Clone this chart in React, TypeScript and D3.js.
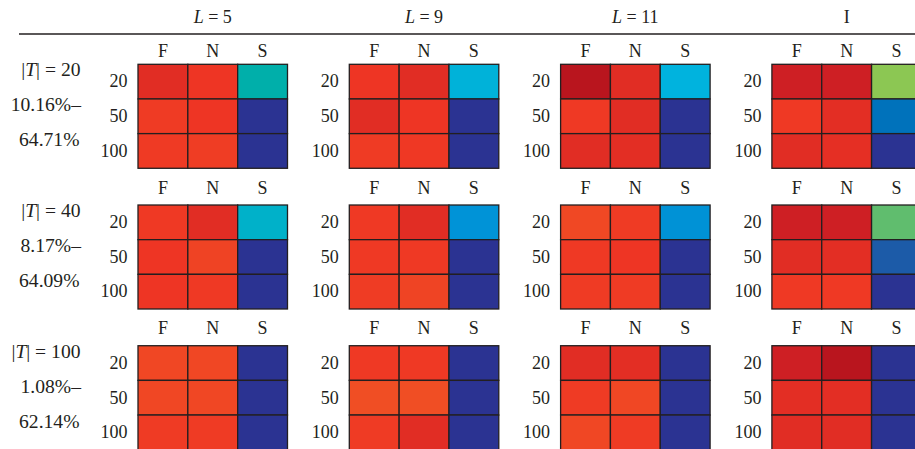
import React from "react";
import * as d3 from "d3";

// panels (columns) and groups (rows)
const methods = ["5", "9", "11", "I"];
const taskSizes = [20, 40, 100];
const rangeMin = [10.16, 8.17, 1.08];
const rangeMax = [64.71, 64.09, 62.14];
const cols = ["F", "N", "S"];
const ks = ["20", "50", "100"];

// values in %, [method][k][F, N, S]
const valsT20 = [
  [[60.9, 59.3, 29.8], [57.1, 59.3, 10.9], [57.6, 56.8, 10.2]],
  [[59.3, 60.9, 26.0], [60.9, 59.3, 10.6], [57.1, 58.0, 10.4]],
  [[64.7, 60.9, 25.4], [57.9, 60.9, 11.0], [60.9, 60.6, 10.5]],
  [[63.1, 63.1, 36.3], [57.9, 60.6, 18.9], [60.9, 60.4, 11.3]],
];
const valsT40 = [
  [[57.1, 60.2, 26.1], [58.5, 54.9, 9.5], [58.5, 57.1, 8.2]],
  [[57.1, 60.2, 20.5], [57.1, 57.1, 9.0], [56.0, 54.6, 8.8]],
  [[54.0, 56.3, 20.4], [57.1, 58.5, 9.2], [56.3, 56.3, 8.6]],
  [[62.4, 62.4, 31.7], [60.2, 59.9, 14.9], [57.1, 57.1, 9.8]],
];
const valsT100 = [
  [[51.2, 51.2, 1.1], [51.2, 51.2, 1.8], [53.6, 53.6, 2.3]],
  [[54.5, 54.5, 1.5], [49.9, 49.9, 2.0], [53.6, 57.9, 2.6]],
  [[57.9, 57.6, 1.3], [53.6, 51.2, 1.9], [51.2, 53.6, 2.4]],
  [[60.3, 62.1, 1.6], [57.6, 57.6, 2.2], [57.9, 57.9, 2.8]],
];
const allVals = [valsT20, valsT40, valsT100];

// colour map on the normalised value
const cmapStops = [0, 0.06, 0.12, 0.16, 0.22, 0.28, 0.32, 0.36, 0.42, 0.48, 0.58, 0.7, 0.8, 0.86, 0.9, 0.93, 0.97, 1];
const cmapColors = [
  "#2b3392", "#2b3392", "#1c5ba8", "#0072bb", "#0093d7", "#00b3de", "#00b1c9", "#00afaa",
  "#5fbd6e", "#8dc753", "#f7ec13", "#f7941d", "#f04e24", "#ef3b24", "#ee3524", "#e12d24",
  "#ce1f24", "#b9151e",
];

const W = 915;
const H = 449;
const FONT = "'Liberation Serif', 'Times New Roman', serif";
const INK = "#231f20";
const FS = 18;
const headerY = [57, 194, 334];

// right-aligned label, a little wider than the font draws it
const Wide = ({ x, y, children }: { x: number; y: number; children: React.ReactNode }) => (
  <text transform={`translate(${x},${y}) scale(1.09,1)`} textAnchor="end">{children}</text>
);

export default function App() {
  const panelX = d3.scaleBand().domain(methods).range([138, 921.4]).paddingInner(0.2925);
  const panelY = d3.scaleBand().domain(taskSizes.map(String)).range([64.3, 449.7]).paddingInner(0.261);
  const cellX = d3.scaleBand().domain(cols).range([0, panelX.bandwidth()]);
  const cellY = d3.scaleBand().domain(ks).range([0, panelY.bandwidth()]);
  const color = d3.scaleLinear<string>().domain(cmapStops).range(cmapColors).clamp(true);

  return (
    <svg width={W} height={H} style={{ position: "absolute", left: 0, top: 0, background: "#fff" }}
      fontFamily={FONT} fontSize={FS} fill={INK}>
      {methods.map((m) => (
        <text key={m} x={panelX(m)! + panelX.bandwidth() / 2} y={23} textAnchor="middle">
          {m === "I" ? "I" : (<><tspan fontStyle="italic">L</tspan>{" = " + m}</>)}
        </text>
      ))}
      <line x1={19} x2={W} y1={34} y2={34} stroke={INK} strokeWidth={1.3} />

      {taskSizes.map((t, ri) => {
        const y0 = panelY(String(t))!;
        const norm = d3.scaleLinear().domain([rangeMin[ri], rangeMax[ri]]).range([0, 1]);
        return (
          <g key={t}>
            <Wide x={80.5} y={y0 + 12}>
              |<tspan fontStyle="italic">T</tspan>| = {t}
            </Wide>
            <Wide x={81} y={y0 + 47}>{rangeMin[ri].toFixed(2)}%–</Wide>
            <Wide x={79.5} y={y0 + 82}>{rangeMax[ri].toFixed(2)}%</Wide>
            {methods.map((m, mi) => {
              const x0 = panelX(m)!;
              return (
                <g key={m}>
                  {cols.map((c) => (
                    <text key={c} x={x0 + cellX(c)! + cellX.bandwidth() / 2} y={headerY[ri]} textAnchor="middle">{c}</text>
                  ))}
                  {ks.map((k) => (
                    <text key={k} x={x0 - 10.5} y={y0 + cellY(k)! + cellY.bandwidth() / 2 + 5.8} textAnchor="end">{k}</text>
                  ))}
                  {ks.map((k, ki) =>
                    cols.map((c, ci) => (
                      <rect key={k + c} x={x0 + cellX(c)!} y={y0 + cellY(k)!}
                        width={cellX.bandwidth()} height={cellY.bandwidth()}
                        fill={color(norm(allVals[ri][mi][ki][ci]))} stroke={INK} strokeWidth={1.3} />
                    ))
                  )}
                </g>
              );
            })}
          </g>
        );
      })}
    </svg>
  );
}
